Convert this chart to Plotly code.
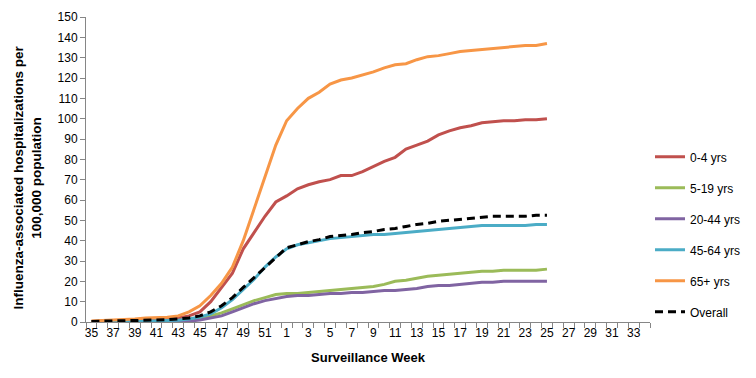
import plotly.graph_objects as go

weeks = [str(w) for w in range(35, 53)] + [str(w) for w in range(1, 35)]
tick_text = [w if i % 2 == 0 else "" for i, w in enumerate(weeks)]

# values for weeks 35..52, 1..25
age_0_4 = [0.3, 0.4, 0.5, 0.6, 0.8, 1.0, 1.2, 1.5, 2.0, 3.0, 5.0, 10, 17, 24, 36, 44, 52, 59,
           62, 65.5, 67.5, 69, 70, 72, 72, 74, 76.5, 79, 81, 85, 87, 89, 92, 94, 95.5, 96.5,
           98, 98.5, 99, 99, 99.5, 99.5, 100]
age_5_19 = [0.1, 0.1, 0.1, 0.1, 0.1, 0.2, 0.2, 0.2, 0.3, 0.5, 1.5, 3.0, 4.5, 6.5, 8.5, 10.5, 12, 13.5,
            14, 14, 14.5, 15, 15.5, 16, 16.5, 17, 17.5, 18.5, 20, 20.5, 21.5, 22.5, 23, 23.5, 24, 24.5,
            25, 25, 25.5, 25.5, 25.5, 25.5, 26]
age_20_44 = [0.1, 0.1, 0.1, 0.1, 0.1, 0.1, 0.2, 0.2, 0.2, 0.4, 1.0, 2.0, 3.0, 5.0, 7.0, 9.0, 10.5, 11.5,
             12.5, 13, 13, 13.5, 14, 14, 14.5, 14.5, 15, 15.5, 15.5, 16, 16.5, 17.5, 18, 18, 18.5, 19,
             19.5, 19.5, 20, 20, 20, 20, 20]
age_45_64 = [0.2, 0.2, 0.3, 0.3, 0.4, 0.5, 0.6, 0.7, 0.9, 1.5, 2.5, 4.0, 7.0, 11, 16, 21, 27, 32,
             36, 38, 39, 40, 41, 41.5, 42, 42.5, 43, 43, 43.5, 44, 44.5, 45, 45.5, 46, 46.5, 47,
             47.5, 47.5, 47.5, 47.5, 47.5, 48, 48]
age_65 = [0.5, 0.7, 1.0, 1.2, 1.5, 2.0, 2.0, 2.3, 3.0, 5.0, 8.0, 13, 19, 27, 40, 56, 71, 87,
          99, 105, 110, 113, 117, 119, 120, 121.5, 123, 125, 126.5, 127, 129, 130.5, 131, 132, 133, 133.5,
          134, 134.5, 135, 135.5, 136, 136, 137]
overall = [0.3, 0.4, 0.5, 0.5, 0.6, 0.8, 0.9, 1.1, 1.5, 2.0, 3.0, 5.0, 8.0, 12, 17, 22, 27, 32,
           36.5, 38, 39.5, 40.5, 42, 42.5, 43, 44, 44.5, 45.5, 46, 47, 48, 48.5, 49.5, 50, 50.5, 51,
           51.5, 52, 52, 52, 52, 52.5, 52.5]

series = [
    ("0-4 yrs", age_0_4, "#C0504D", "solid"),
    ("5-19 yrs", age_5_19, "#9BBB59", "solid"),
    ("20-44 yrs", age_20_44, "#8064A2", "solid"),
    ("45-64 yrs", age_45_64, "#4BACC6", "solid"),
    ("65+ yrs", age_65, "#F79646", "solid"),
    ("Overall", overall, "#000000", "8px,5px"),
]

fig = go.Figure()
for name, vals, color, dash in series:
    fig.add_trace(go.Scatter(
        x=weeks[:len(vals)], y=vals, name=name, mode="lines",
        legendgroup=name,
        line=dict(color=color, width=3, dash=dash),
    ))

fig.update_layout(
    width=756, height=378,
    margin=dict(l=86, r=106, t=17, b=56, autoexpand=False),
    paper_bgcolor="white", plot_bgcolor="white",
    font=dict(family="Liberation Sans, Arial, sans-serif", size=12, color="#000"),
    showlegend=True,
    legend=dict(x=1.0, y=0.589, xanchor="left", yanchor="top",
                font=dict(family="Liberation Sans, sans-serif", size=12, color="#000"),
                tracegroupgap=12, bgcolor="rgba(0,0,0,0)", itemwidth=30),
    xaxis=dict(
        type="category", categoryorder="array", categoryarray=weeks,
        range=[-0.5, len(weeks) - 0.5], automargin=False,
        tickmode="array", tickvals=weeks, ticktext=tick_text, tickangle=0,
        tickson="boundaries", ticks="outside", ticklen=5, tickcolor="#868686",
        showline=True, linecolor="#868686", linewidth=1, showgrid=False, zeroline=False,
        tickfont=dict(family="Liberation Sans Narrow, Liberation Sans, sans-serif", size=12, color="#000"),
        title=dict(text="<b>Surveillance Week</b>", standoff=13,
                   font=dict(family="Liberation Sans Narrow, Liberation Sans, sans-serif", size=13)),
    ),
    yaxis=dict(
        range=[0, 150], dtick=10, tick0=0, automargin=False,
        ticks="outside", ticklen=5, tickcolor="#868686",
        showline=True, linecolor="#868686", linewidth=1, showgrid=False, zeroline=False,
        tickfont=dict(size=12, color="#000"),
    ),
    annotations=[dict(
        text="<b>Influenza-associated hospitalizations per<br>100,000 population</b>",
        xref="paper", yref="paper", x=-0.1037, y=0.472, xanchor="center", yanchor="middle",
        textangle=-90, showarrow=False, font=dict(size=13.5, color="#000"),
    )],
)

fig.write_html("out.html", config={"displayModeBar": False},
               post_script="document.body.style.margin='0';document.body.style.padding='0';")
